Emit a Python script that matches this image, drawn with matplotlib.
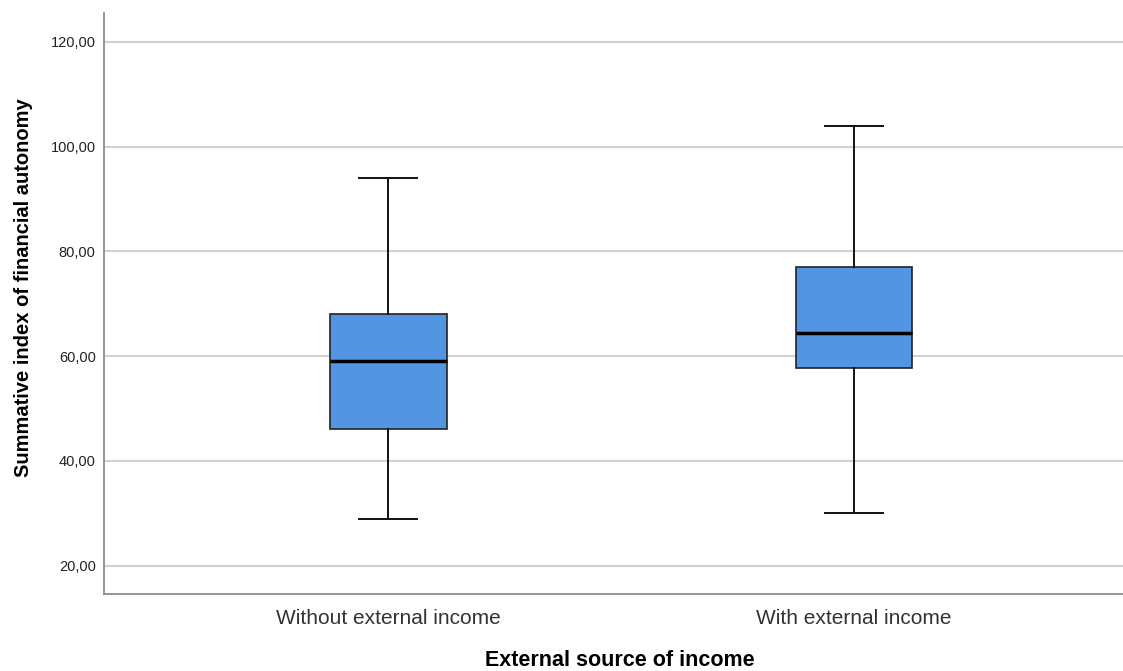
import matplotlib
matplotlib.use("Agg")
import matplotlib.pyplot as plt
from matplotlib.ticker import FuncFormatter

categories = ["Without external income", "With external income"]
whisker_low = [29.0, 30.0]
q1 = [46.0, 57.8]
median = [59.0, 64.5]
q3 = [68.0, 77.0]
whisker_high = [94.0, 104.0]
yticks = [20, 40, 60, 80, 100, 120]

plt.rcParams['font.family'] = ['Liberation Sans', 'DejaVu Sans']

fig = plt.figure(figsize=(11.23, 6.71), dpi=100)
ax = fig.add_axes([104/1123, 1 - 594/671, 1 - 104/1123 + 0.001, (594 - 13)/671])

stats = []
for i, c in enumerate(categories):
    stats.append(dict(label=c, whislo=whisker_low[i], q1=q1[i], med=median[i],
                      q3=q3[i], whishi=whisker_high[i], fliers=[]))

positions = list(range(len(categories)))
ax.bxp(stats, positions=positions, widths=0.25, showfliers=False, patch_artist=True,
       boxprops=dict(facecolor='#5394e3', edgecolor='#222222', linewidth=1.2),
       medianprops=dict(color='black', linewidth=2.5),
       whiskerprops=dict(color='#111111', linewidth=1.4),
       capprops=dict(color='#111111', linewidth=1.4),
       capwidths=0.125, zorder=3)

ax.set_xlim(-0.6108, 1.5806)
ax.set_ylim(14.6, 125.5)
ax.set_yticks(yticks)
ax.yaxis.set_major_formatter(FuncFormatter(lambda v, p: f"{v:.2f}".replace('.', ',')))
ax.grid(axis='y', color='#d2d2d2', linewidth=1.5, zorder=0)
ax.set_axisbelow(True)
for s in ['top', 'right']:
    ax.spines[s].set_visible(False)
for s in ['left', 'bottom']:
    ax.spines[s].set_color('#8c8c8c')
    ax.spines[s].set_linewidth(1.3)
ax.tick_params(axis='y', length=0, pad=6, labelsize=10.5, labelcolor='#222222')
ax.tick_params(axis='x', length=0, pad=11, labelsize=15, labelcolor='#333333')
ax.set_xticks(positions)
ax.set_xticklabels(categories)

ax.set_xlabel("External source of income", fontsize=15.5, fontweight='bold', labelpad=15.5)
ax.xaxis.label.set_x((619.5 - 104) / 1019)
ax.set_ylabel("Summative index of financial autonomy", fontsize=14.5, fontweight='bold')
ax.yaxis.set_label_coords(-71/1019, (594 - 287.5)/581)

fig.savefig("out.png", dpi=100)
